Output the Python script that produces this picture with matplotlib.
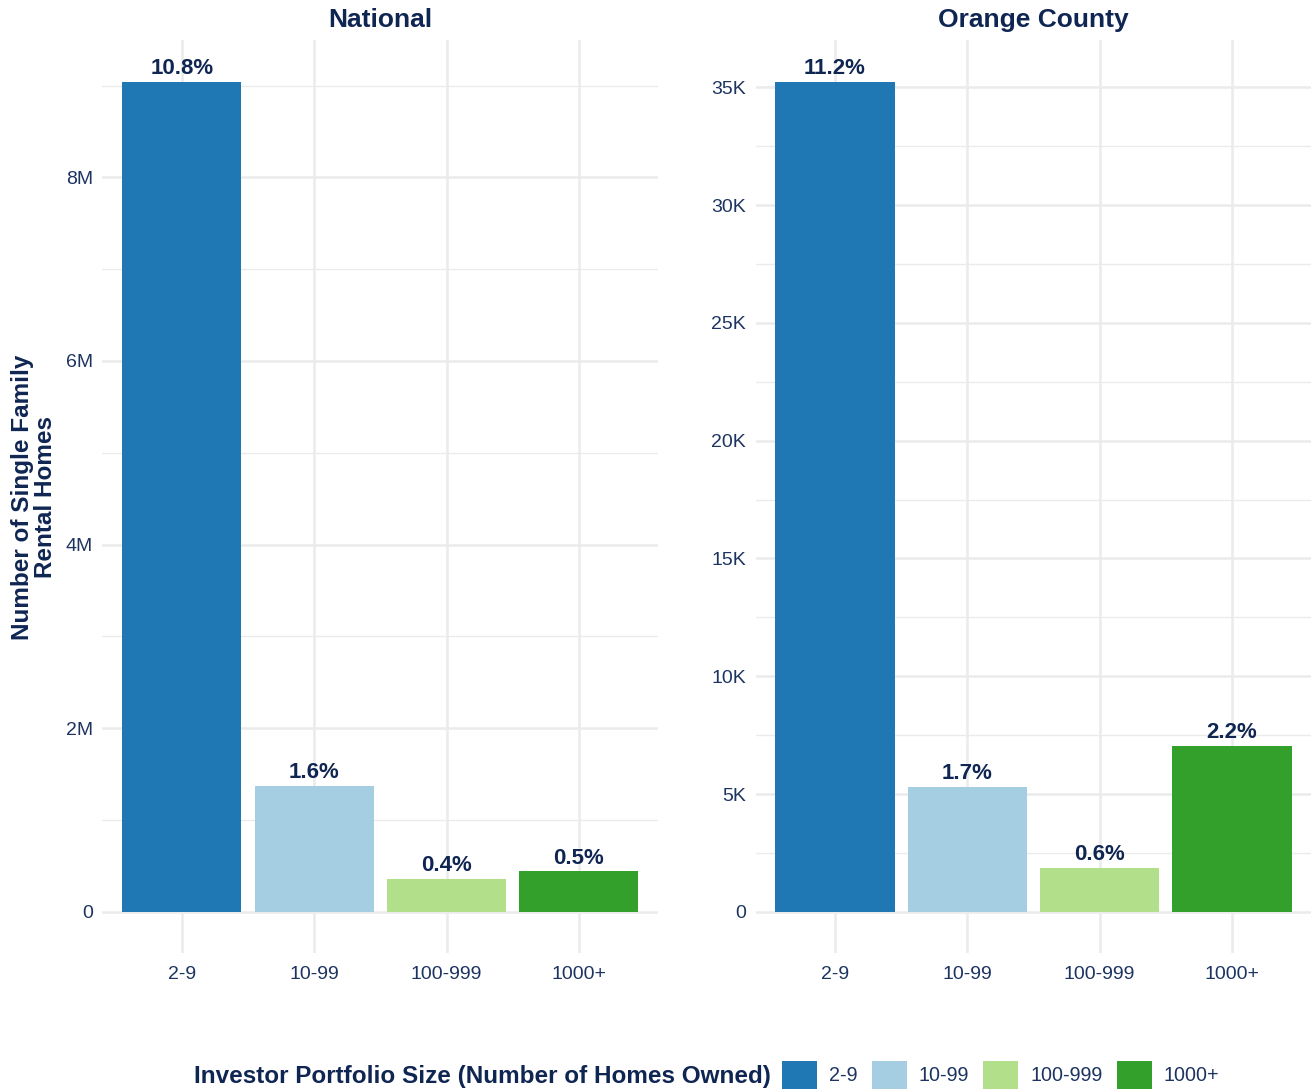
import matplotlib.pyplot as plt
import numpy as np
from matplotlib.patches import Patch
from matplotlib.ticker import FuncFormatter, MultipleLocator

plt.rcParams['font.family'] = ['Liberation Sans', 'DejaVu Sans']

categories = ['2-9', '10-99', '100-999', '1000+']
colors = ['#1F78B4', '#A6CEE3', '#B2DF8A', '#33A02C']

national_homes = [9.04e6, 1.37e6, 0.36e6, 0.44e6]
national_pct = ['10.8%', '1.6%', '0.4%', '0.5%']
orange_homes = [35230, 5310, 1870, 7060]
orange_pct = ['11.2%', '1.7%', '0.6%', '2.2%']

title_color = '#0f2552'
tick_color = '#1d3461'
grid_color = '#ebebeb'


def fmt_m(v, pos):
    return '0' if v == 0 else '{:g}M'.format(v / 1e6)


def fmt_k(v, pos):
    return '0' if v == 0 else '{:g}K'.format(v / 1e3)


def draw_panel(ax, values, labels, title, major, fmt):
    x = np.arange(len(categories))
    bars = ax.bar(x, values, width=0.9, color=colors, zorder=2)
    for b, lab in zip(bars, labels):
        ax.annotate(lab, (b.get_x() + b.get_width() / 2, b.get_height()),
                    xytext=(0, 2), textcoords='offset points',
                    ha='center', va='bottom', fontsize=16,
                    fontweight='bold', color=title_color)
    top = max(values)
    ax.set_ylim(-0.05 * top, 1.05 * top)
    ax.set_xlim(-0.6, len(categories) - 0.4)
    ax.set_xticks(x)
    ax.set_xticklabels(categories)
    ax.yaxis.set_major_locator(MultipleLocator(major))
    ax.yaxis.set_minor_locator(MultipleLocator(major / 2))
    ax.yaxis.set_major_formatter(FuncFormatter(fmt))
    ax.grid(True, which='major', color=grid_color, lw=1.8, zorder=0)
    ax.grid(True, which='minor', axis='y', color=grid_color, lw=1.0, zorder=0)
    ax.set_axisbelow(True)
    for s in ax.spines.values():
        s.set_visible(False)
    ax.tick_params(axis='both', which='both', length=0, labelsize=14,
                   labelcolor=tick_color)
    ax.tick_params(axis='x', pad=9)
    ax.tick_params(axis='y', pad=7)
    ax.set_title(title, fontsize=19, fontweight='bold', color=title_color, pad=10)


fig = plt.figure(figsize=(13.14, 10.92), dpi=100)
ax1 = fig.add_axes([0.078, 0.127, 0.423, 0.836])
ax2 = fig.add_axes([0.575, 0.127, 0.423, 0.836])

draw_panel(ax1, national_homes, national_pct, 'National', 2e6, fmt_m)
draw_panel(ax2, orange_homes, orange_pct, 'Orange County', 5e3, fmt_k)

fig.text(34 / 1314, 1 - 497 / 1092, 'Number of Single Family\nRental Homes',
         fontsize=17.5, fontweight='bold', color=title_color, rotation=90,
         ha='center', va='center', multialignment='center', linespacing=1.0)

fig.text(194 / 1314, 1 - 1076 / 1092, 'Investor Portfolio Size (Number of Homes Owned)',
         fontsize=17.5, fontweight='bold', color=title_color, ha='left', va='center')
handles = [Patch(facecolor=c, label=l) for c, l in zip(colors, categories)]
fig.legend(handles=handles, loc='center left', ncol=4, frameon=False,
           bbox_to_anchor=(782 / 1314, 1 - 1075 / 1092), fontsize=14.2,
           handlelength=1.78, handleheight=1.83, handletextpad=0.6,
           columnspacing=0.72, labelcolor=tick_color, borderpad=0, borderaxespad=0)

fig.savefig('out.png', dpi=100)
